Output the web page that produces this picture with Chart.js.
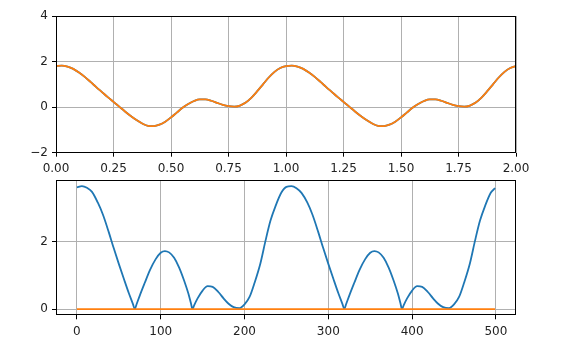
<!DOCTYPE html>
<html><head><meta charset="utf-8">
<script src="https://cdn.jsdelivr.net/npm/chart.js@4.4.1/dist/chart.umd.min.js"></script>
<style>
html,body{margin:0;padding:0;background:#fff;}
#wrap{position:relative;width:580px;height:349px;overflow:hidden;background:#fff;}
canvas{position:absolute;left:0;}
#c1{top:0;}
#c2{top:178px;}
</style></head><body>
<div id="wrap"><canvas id="c1" width="580" height="178"></canvas><canvas id="c2" width="580" height="171"></canvas></div>
<script>
// ---- top panel: time signal (two overlapping series) ----
const topTime = [0,0.025,0.05,0.075,0.1,0.125,0.15,0.175,0.2,0.225,0.25,0.275,0.3,0.325,0.35,0.375,0.4,0.425,0.45,0.475,
  0.5,0.525,0.55,0.575,0.6,0.625,0.65,0.675,0.7,0.725,0.75,0.775,0.8,0.825,0.85,0.875,0.9,0.925,0.95,0.975,
  1,1.025,1.05,1.075,1.1,1.125,1.15,1.175,1.2,1.225,1.25,1.275,1.3,1.325,1.35,1.375,1.4,1.425,1.45,1.475,
  1.5,1.525,1.55,1.575,1.6,1.625,1.65,1.675,1.7,1.725,1.75,1.775,1.8,1.825,1.85,1.875,1.9,1.925,1.95,1.975,2];
const topBlue = [1.80,1.82,1.78,1.68,1.52,1.33,1.11,0.88,0.66,0.44,0.23,0.02,-0.19,-0.39,-0.57,-0.72,-0.82,-0.83,-0.77,-0.64,
  -0.45,-0.24,-0.03,0.14,0.27,0.34,0.34,0.28,0.19,0.10,0.04,0.02,0.07,0.20,0.42,0.70,1.00,1.30,1.55,1.72,
  1.80,1.82,1.78,1.68,1.52,1.33,1.11,0.88,0.66,0.44,0.23,0.02,-0.19,-0.39,-0.57,-0.72,-0.82,-0.83,-0.77,-0.64,
  -0.45,-0.24,-0.03,0.14,0.27,0.34,0.34,0.28,0.19,0.10,0.04,0.02,0.07,0.20,0.42,0.70,1.00,1.30,1.55,1.72,1.80];
const topOrange = [1.80,1.82,1.78,1.68,1.52,1.33,1.11,0.88,0.66,0.44,0.23,0.02,-0.19,-0.39,-0.57,-0.72,-0.82,-0.83,-0.77,-0.64,
  -0.45,-0.24,-0.03,0.14,0.27,0.34,0.34,0.28,0.19,0.10,0.04,0.02,0.07,0.20,0.42,0.70,1.00,1.30,1.55,1.72,
  1.80,1.82,1.78,1.68,1.52,1.33,1.11,0.88,0.66,0.44,0.23,0.02,-0.19,-0.39,-0.57,-0.72,-0.82,-0.83,-0.77,-0.64,
  -0.45,-0.24,-0.03,0.14,0.27,0.34,0.34,0.28,0.19,0.10,0.04,0.02,0.07,0.20,0.42,0.70,1.00,1.30,1.55,1.72,1.80];
const topXTicks = [0,0.25,0.5,0.75,1,1.25,1.5,1.75,2];
const topYTicks = [-2,0,2,4];

// ---- bottom panel: magnitude per sample ----
const bottomIndex = [0,6,12,18,25,31,38,44,50,56,62,67,69,71,75,81,87,94,100,105,110,116,122,128,133,136,138,140,
  144,150,156,162,169,175,181,187,194,200,206,212,219,225,231,237,244,250,256,262,268,
  275,281,288,294,300,306,312,317,319,321,325,331,337,344,350,355,360,366,372,378,383,386,388,390,
  394,400,406,412,419,425,431,437,444,450,456,462,469,475,481,487,494,499];
const bottomBlue = [3.60,3.64,3.59,3.47,3.15,2.80,2.28,1.80,1.34,0.90,0.47,0.14,0.00,0.13,0.40,0.78,1.15,1.48,1.67,1.72,1.68,1.52,1.23,0.84,0.46,0.18,0.00,0.12,
  0.32,0.55,0.68,0.66,0.50,0.32,0.16,0.06,0.03,0.14,0.36,0.78,1.36,2.02,2.62,3.05,3.45,3.62,3.64,3.58,3.44,
  3.15,2.80,2.28,1.80,1.34,0.90,0.47,0.14,0.00,0.13,0.40,0.78,1.15,1.48,1.67,1.72,1.68,1.52,1.23,0.84,0.46,0.18,0.00,0.12,
  0.32,0.55,0.68,0.66,0.50,0.32,0.16,0.06,0.03,0.14,0.36,0.78,1.36,2.02,2.62,3.05,3.45,3.58];
const bottomOrangeIndex = [0,499];
const bottomOrange = [0,0];
const bottomXTicks = [0,100,200,300,400,500];
const bottomYTicks = [0,2];

const BLUE = '#1f77b4', ORANGE = '#ff7f0e';
const pts = (xs, ys) => xs.map((x, i) => ({x: x, y: ys[i]}));
const fmtMinus = v => String(v).replace('-', '\u2212');

const frame = {
  id: 'frame',
  afterDatasetsDraw(chart) {
    const {ctx, chartArea: a} = chart;
    ctx.save();
    ctx.strokeStyle = '#000';
    ctx.lineWidth = 1;
    const l = Math.round(a.left) + 0.5, r = Math.round(a.right) - 0.5;
    const t = Math.round(a.top) + 0.5, b = Math.round(a.bottom) - 0.5;
    ctx.strokeRect(l, t, r - l, b - t);
    ctx.restore();
  }
};

function makeChart(id, datasets, xr, yr, xTicks, yTicks, xFmt, yFmt, padTop, xHeight) {
  const font = {family: 'DejaVu Sans', size: 12};
  const grid = {color: '#b0b0b0', lineWidth: 1, drawTicks: true, tickLength: 4, tickColor: '#000', tickWidth: 1};
  return new Chart(document.getElementById(id), {
    type: 'scatter',
    data: {datasets: datasets},
    options: {
      responsive: false, animation: false, devicePixelRatio: 1,
      layout: {padding: {top: padTop, right: 64, left: 0, bottom: 0}},
      plugins: {legend: {display: false}, tooltip: {enabled: false}},
      elements: {point: {radius: 0}},
      scales: {
        x: {type: 'linear', min: xr[0], max: xr[1], grid: grid, border: {display: false},
          afterBuildTicks: s => { s.ticks = xTicks.map(v => ({value: v})); },
          afterFit: s => { s.height = xHeight; s.paddingLeft = 0; s.paddingRight = 0; },
          ticks: {font: font, color: '#222', padding: 5, maxRotation: 0, autoSkip: false, callback: xFmt}},
        y: {type: 'linear', min: yr[0], max: yr[1], grid: grid, border: {display: false},
          afterBuildTicks: s => { s.ticks = yTicks.map(v => ({value: v})); },
          afterFit: s => { s.width = 56; s.paddingTop = 0; s.paddingBottom = 0; },
          ticks: {font: font, color: '#222', padding: 4, autoSkip: false, callback: yFmt}}
      }
    },
    plugins: [frame]
  });
}

makeChart('c1', [
  {data: pts(topTime, topBlue), showLine: true, borderColor: BLUE, borderWidth: 1.8, pointRadius: 0, cubicInterpolationMode: 'monotone', order: 2},
  {data: pts(topTime, topOrange), showLine: true, borderColor: ORANGE, borderWidth: 1.8, pointRadius: 0, cubicInterpolationMode: 'monotone', order: 1}
], [0, 2], [-2, 4], topXTicks, topYTicks, v => Number(v).toFixed(2), fmtMinus, 16, 25.3);

makeChart('c2', [
  {data: pts(bottomIndex, bottomBlue), showLine: true, borderColor: BLUE, borderWidth: 1.8, pointRadius: 0, cubicInterpolationMode: 'monotone', order: 2},
  {data: pts(bottomOrangeIndex, bottomOrange), showLine: true, borderColor: ORANGE, borderWidth: 1.8, pointRadius: 0, order: 1}
], [-24.95, 523.95], [-0.182, 3.822], bottomXTicks, bottomYTicks, v => String(v), fmtMinus, 2, 33.7);
</script>
</body></html>
